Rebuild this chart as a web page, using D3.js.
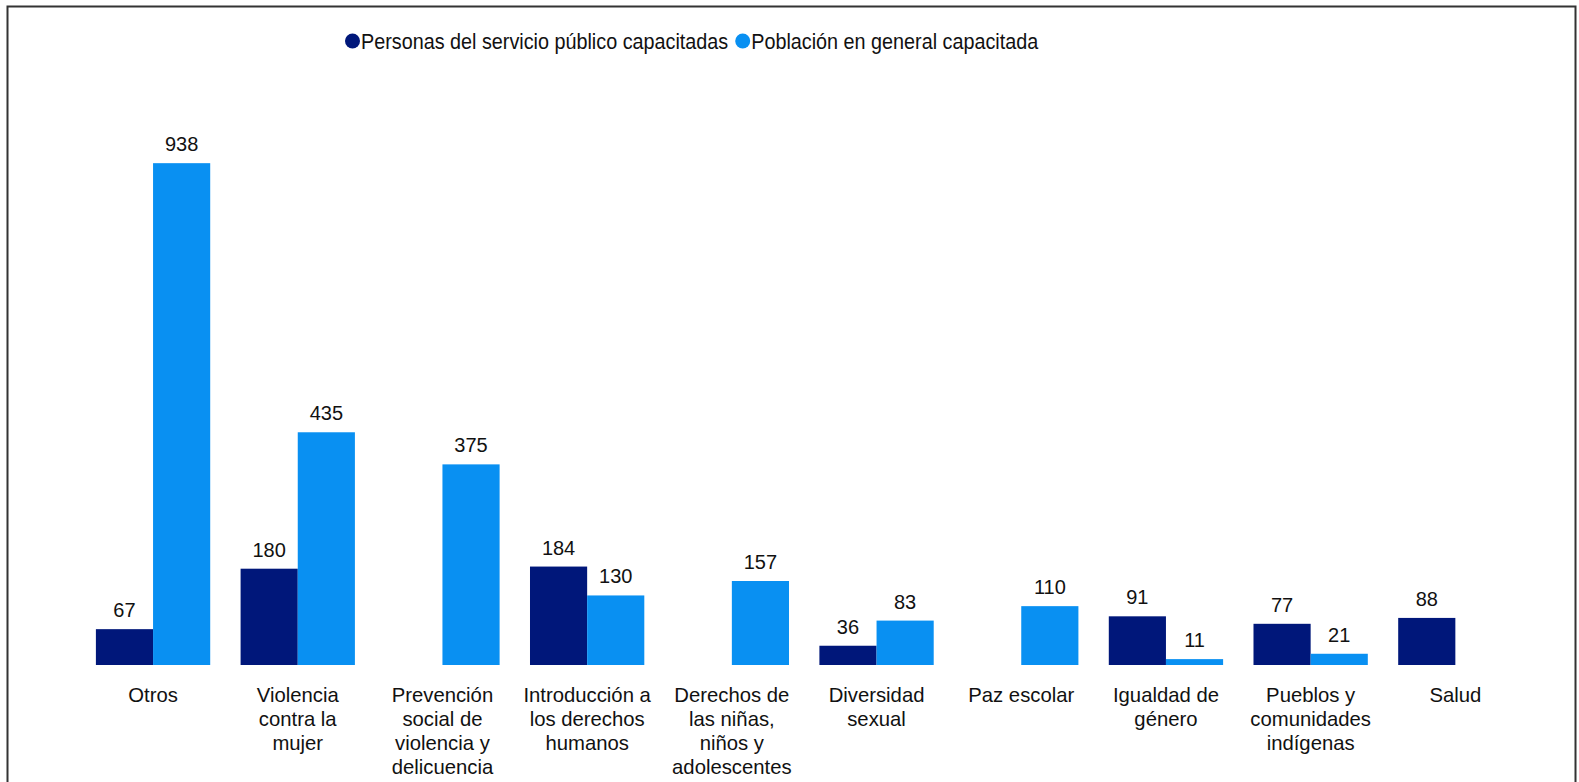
<!DOCTYPE html>
<html>
<head>
<meta charset="utf-8">
<script src="https://cdn.jsdelivr.net/npm/d3@7"></script>
<style>
  html, body { margin: 0; padding: 0; background: #ffffff; }
  svg { display: block; font-family: "Liberation Sans", Arial, sans-serif; }
</style>
</head>
<body>
<svg id="chart" width="1579" height="782"></svg>
<script>
// ---- Data ----
const categories = [
  "Otros",
  "Violencia contra la mujer",
  "Prevención social de violencia y delicuencia",
  "Introducción a los derechos humanos",
  "Derechos de las niñas, niños y adolescentes",
  "Diversidad sexual",
  "Paz escolar",
  "Igualdad de género",
  "Pueblos y comunidades indígenas",
  "Salud"
];
const categoryLines = [
  ["Otros"],
  ["Violencia", "contra la", "mujer"],
  ["Prevención", "social de", "violencia y", "delicuencia"],
  ["Introducción a", "los derechos", "humanos"],
  ["Derechos de", "las niñas,", "niños y", "adolescentes"],
  ["Diversidad", "sexual"],
  ["Paz escolar"],
  ["Igualdad de", "género"],
  ["Pueblos y", "comunidades", "indígenas"],
  ["Salud"]
];
const seriesNames = ["Personas del servicio público capacitadas", "Población en general capacitada"];
const servicioPublico = [67, 180, null, 184, null, 36, null, 91, 77, 88];
const poblacionGeneral = [938, 435, 375, 130, 157, 83, 110, 11, 21, null];
const seriesColors = ["#00177a", "#0990f2"];

// ---- Layout ----
const svg = d3.select("#chart");

svg.append("rect")
  .attr("x", 7.5).attr("y", 6.5)
  .attr("width", 1568).attr("height", 790)
  .attr("fill", "none").attr("stroke", "#333").attr("stroke-width", 2);

const x0 = d3.scaleBand()
  .domain(categories)
  .range([80.7, 1527.7])
  .paddingInner(0.21)
  .paddingOuter(0.105);

const x1 = d3.scaleBand()
  .domain([0, 1])
  .range([0, x0.bandwidth()]);

const y = d3.scaleLinear().domain([0, 1000]).range([665, 130]);

const seriesData = [servicioPublico, poblacionGeneral];

const rows = [];
categories.forEach((c, i) => {
  seriesData.forEach((s, j) => {
    if (s[i] !== null && s[i] !== undefined) rows.push({ cat: c, s: j, v: s[i] });
  });
});

const g = svg.append("g");
g.selectAll("rect.bar").data(rows).enter().append("rect")
  .attr("class", "bar")
  .attr("x", d => x0(d.cat) + x1(d.s))
  .attr("y", d => y(d.v))
  .attr("width", x1.bandwidth())
  .attr("height", d => y(0) - y(d.v))
  .attr("fill", d => seriesColors[d.s]);

g.selectAll("text.val").data(rows).enter().append("text")
  .attr("class", "val")
  .attr("x", d => x0(d.cat) + x1(d.s) + x1.bandwidth() / 2)
  .attr("y", d => y(d.v) - 12)
  .attr("text-anchor", "middle")
  .attr("font-size", 20)
  .attr("fill", "#111")
  .text(d => d.v);

// Category axis (no line), labels wrapped
const xAxis = d3.axisBottom(x0).tickSize(0).tickFormat("");
const axG = svg.append("g").attr("transform", `translate(0,${y(0)})`).call(xAxis);
axG.select(".domain").remove();

const labG = svg.append("g");
categories.forEach((c, i) => {
  const cx = x0(c) + x0.bandwidth() / 2;
  const t = labG.append("text")
    .attr("x", cx)
    .attr("y", 702)
    .attr("text-anchor", "middle")
    .attr("font-size", 20.3)
    .attr("fill", "#111");
  categoryLines[i].forEach((ln, k) => {
    t.append("tspan")
      .attr("x", cx)
      .attr("y", 702 + k * 24.1)
      .text(ln);
  });
});

// Legend
const leg = svg.append("g");
let lx = 345;
const sx = 0.9;
seriesNames.forEach((name, i) => {
  leg.append("circle")
    .attr("cx", lx + 7.5).attr("cy", 41).attr("r", 7.5)
    .attr("fill", seriesColors[i]);
  const t = leg.append("text")
    .attr("transform", `translate(${lx + 16},49) scale(${sx},1)`)
    .attr("font-size", 22)
    .attr("fill", "#111")
    .text(name);
  lx = lx + 16 + t.node().getComputedTextLength() * sx + 7;
});
</script>
</body>
</html>
